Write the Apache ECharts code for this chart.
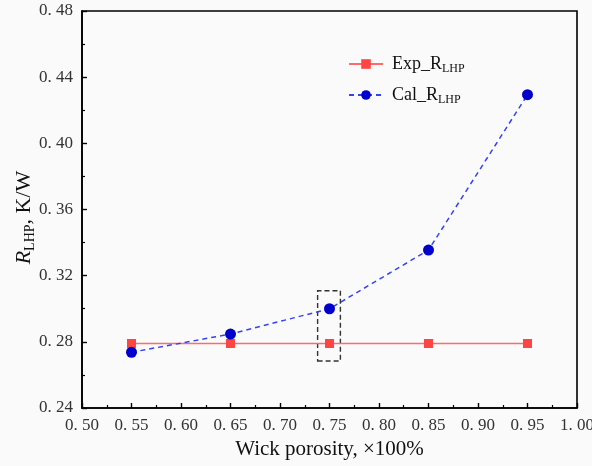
<!DOCTYPE html>
<html><head><meta charset="utf-8">
<script src="https://cdn.jsdelivr.net/npm/echarts@6/dist/echarts.min.js"></script>
<style>html,body{margin:0;padding:0;background:#fafafa;}#c{width:592px;height:466px;}</style>
</head><body><div id="c"></div>
<script>
const porosity = [0.55, 0.65, 0.75, 0.85, 0.95];
const expR = [0.279, 0.279, 0.279, 0.279, 0.279];
const calR = [0.2737, 0.2847, 0.300, 0.3355, 0.4294];
const highlightBox = [[0.738, 0.2684], [0.761, 0.3109]];
const serif = '"Liberation Serif", "Times New Roman", serif';
const fmt = v => v.toFixed(2).replace('.', '. ');
const chart = echarts.init(document.getElementById('c'));
chart.setOption({
  backgroundColor: '#fafafa',
  animation: false,
  grid: {left: 82, right: 15, top: 11, bottom: 58, containLabel: false, outerBoundsMode: 'none',
         show: true, borderColor: '#000', borderWidth: 1.6, backgroundColor: 'transparent'},
  legend: {
    left: 343, top: 49, orient: 'vertical', itemGap: 10, itemWidth: 34, itemHeight: 12,
    data: ['Exp', 'Cal'],
    formatter: n => n === 'Exp' ? '{t|Exp_R}{s|LHP}' : '{t|Cal_R}{s|LHP}',
    textStyle: {fontFamily: serif, color: '#000', padding: [0, 0, 0, 4], rich: {
      t: {fontFamily: serif, fontSize: 18, color: '#111', lineHeight: 22},
      s: {fontFamily: serif, fontSize: 12, color: '#111', lineHeight: 22, verticalAlign: 'bottom', padding: [9, 0, 0, 0]}
    }}
  },
  xAxis: {
    type: 'value', min: 0.5, max: 1.0, interval: 0.05,
    name: 'Wick porosity, ×100%', nameLocation: 'middle', nameGap: 31, nameMoveOverlap: false,
    nameTextStyle: {fontFamily: serif, fontSize: 21, color: '#111'},
    axisLine: {lineStyle: {color: '#000', width: 1.6}},
    axisTick: {inside: true, length: 5, lineStyle: {color: '#000', width: 1.4}},
    minorTick: {show: true, splitNumber: 2, length: 3, lineStyle: {color: '#000', width: 1.2}},
    splitLine: {show: false},
    axisLabel: {formatter: fmt, fontFamily: serif, fontSize: 17, color: '#333', margin: 9, hideOverlap: false}
  },
  yAxis: {
    type: 'value', min: 0.24, max: 0.48, interval: 0.04,
    name: '{i|R}{s|LHP}{t|, K/W}', nameLocation: 'middle', nameGap: 45, nameRotate: 90, nameMoveOverlap: false,
    nameTextStyle: {fontFamily: serif, color: '#111', padding: [0, 16, 0, 0], rich: {
      i: {fontFamily: serif, fontStyle: 'italic', fontSize: 22, color: '#111', lineHeight: 26},
      s: {fontFamily: serif, fontSize: 14, color: '#111', lineHeight: 26, verticalAlign: 'bottom', padding: [11, 0, 0, 0]},
      t: {fontFamily: serif, fontSize: 22, color: '#111', lineHeight: 26}
    }},
    axisLine: {lineStyle: {color: '#000', width: 1.6}},
    axisTick: {inside: true, length: 5, lineStyle: {color: '#000', width: 1.4}},
    minorTick: {show: true, splitNumber: 2, length: 3, lineStyle: {color: '#000', width: 1.2}},
    splitLine: {show: false},
    axisLabel: {formatter: fmt, fontFamily: serif, fontSize: 17, color: '#333', margin: 9}
  },
  series: [
    {name: 'Exp', type: 'line', data: porosity.map((x, i) => [x, expR[i]]),
     symbol: 'rect', symbolSize: 9, itemStyle: {color: '#ff4444'},
     lineStyle: {color: '#ff6b6b', width: 1.6}, z: 2,
     markArea: {silent: true, itemStyle: {color: 'rgba(0,0,0,0)', borderColor: '#333', borderWidth: 1.4, borderType: [5, 3]},
       data: [[{coord: highlightBox[0]}, {coord: highlightBox[1]}]]}},
    {name: 'Cal', type: 'line', data: porosity.map((x, i) => [x, calR[i]]),
     symbol: 'circle', symbolSize: 11, itemStyle: {color: '#0000cc'},
     lineStyle: {color: '#3344ee', width: 1.5, type: [5, 4]}, z: 3}
  ]
});
</script></body></html>
